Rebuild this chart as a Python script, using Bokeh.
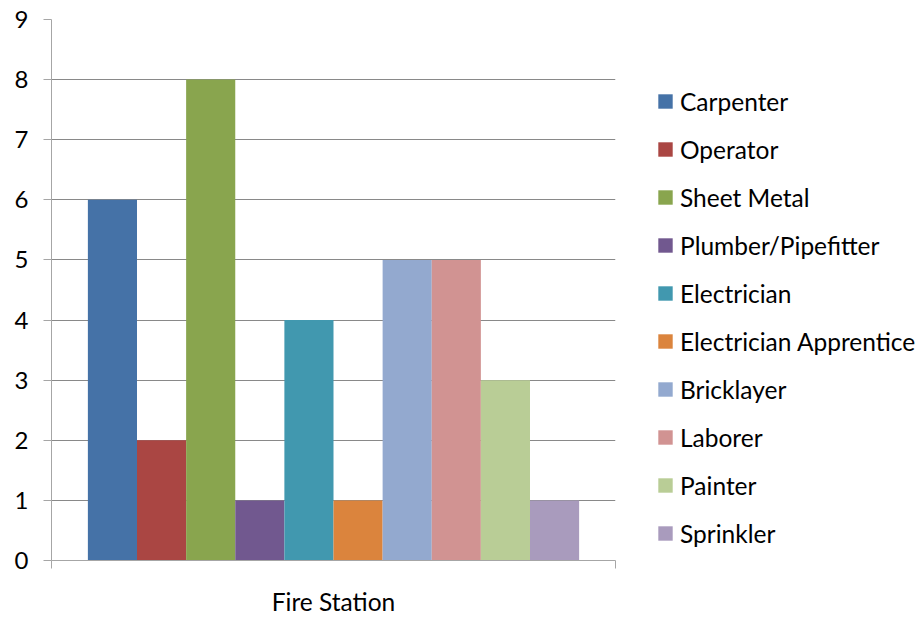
from bokeh.plotting import figure
from bokeh.models import Range1d, Legend, LegendItem, FixedTicker
from bokeh.embed import file_html
from bokeh.resources import INLINE

group = "Fire Station"
trades = ["Carpenter", "Operator", "Sheet Metal", "Plumber/Pipefitter", "Electrician",
          "Electrician Apprentice", "Bricklayer", "Laborer", "Painter", "Sprinkler"]
counts = [6, 2, 8, 1, 4, 1, 5, 5, 3, 1]
colors = ["#4572A7", "#AA4643", "#89A54E", "#71588F", "#4198AF",
          "#DB843D", "#93A9CF", "#D19392", "#B9CD96", "#A99BBD"]
y_ticks = list(range(0, 10))

FONT = "Lato"
n = len(trades)
bar_w = 0.0871

p = figure(frame_width=564, frame_height=541, x_range=Range1d(0, 1), y_range=Range1d(0, 9),
           output_backend="svg", toolbar_location=None,
           min_border_left=51, min_border_right=308, min_border_top=19, min_border_bottom=57)
p.outline_line_color = None
p.background_fill_color = "white"
p.border_fill_color = "white"

items = []
for i, (t, c, v) in enumerate(zip(trades, counts, colors)):
    x = 0.5 + (i - (n - 1) / 2) * bar_w
    r = p.vbar(x=[x], top=[c], bottom=0, width=bar_w, fill_color=v, line_color=None)
    items.append(LegendItem(label=t, renderers=[r]))

# y axis
p.yaxis.ticker = FixedTicker(ticks=y_ticks)
p.yaxis.axis_line_color = "#A6A6A6"
p.yaxis.major_tick_line_color = "#A6A6A6"
p.yaxis.major_tick_out = 8
p.yaxis.major_tick_in = 0
p.yaxis.minor_tick_line_color = None
p.yaxis.major_label_text_font = FONT
p.yaxis.major_label_text_font_size = "24px"
p.yaxis.major_label_text_color = "black"
p.yaxis.major_label_standoff = 15

# x axis
p.xaxis.ticker = FixedTicker(ticks=[0, 1])
p.xaxis.major_label_overrides = {0: "", 1: ""}
p.xaxis.major_label_text_font_size = "1px"
p.xaxis.axis_line_color = "#A6A6A6"
p.xaxis.major_tick_line_color = "#A6A6A6"
p.xaxis.major_tick_out = 8
p.xaxis.major_tick_in = 0
p.xaxis.minor_tick_line_color = None
p.xaxis.axis_label = group
p.xaxis.axis_label_text_font = FONT
p.xaxis.axis_label_text_font_style = "normal"
p.xaxis.axis_label_text_font_size = "24.5px"
p.xaxis.axis_label_text_color = "black"
p.xaxis.axis_label_standoff = 18

p.xgrid.grid_line_color = None
p.ygrid.ticker = FixedTicker(ticks=y_ticks)
p.ygrid.grid_line_color = "#898989"
p.ygrid.grid_line_width = 1

legend = Legend(items=items, location=(41, 12))
legend.label_text_font = FONT
legend.label_text_font_size = "24.5px"
legend.label_text_color = "black"
legend.glyph_width = 18
legend.glyph_height = 18
legend.label_standoff = 6
legend.label_height = 30
legend.spacing = 18
legend.padding = 0
legend.margin = 0
legend.border_line_color = None
legend.background_fill_alpha = 0
p.add_layout(legend, "right")

open("out.html", "w").write(file_html(p, INLINE))
